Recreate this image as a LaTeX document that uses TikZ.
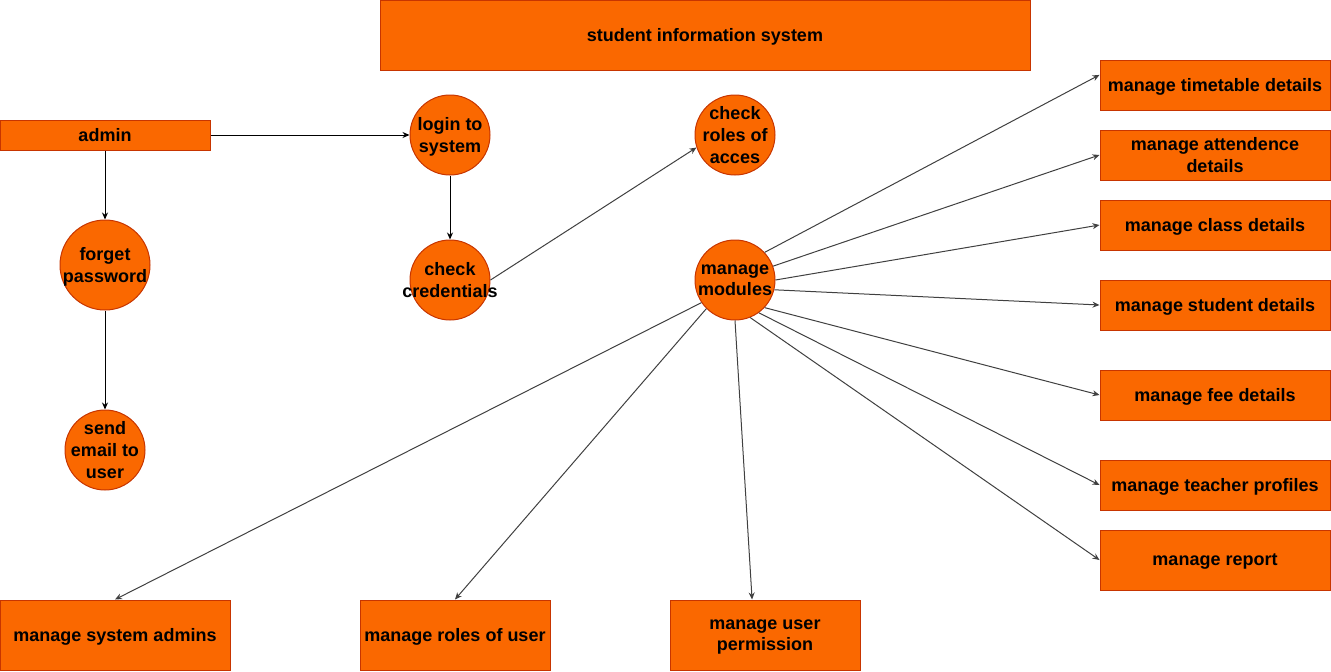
\documentclass[tikz,border=0pt]{standalone}
\usepackage{fontspec}
\setmainfont{Liberation Sans}
\usetikzlibrary{arrows.meta}
\definecolor{boxfill}{HTML}{FA6800}
\definecolor{boxline}{HTML}{C73500}
\definecolor{linkgray}{HTML}{404040}
\begin{document}
\begin{tikzpicture}[x=1pt,y=-1pt,
    font=\bfseries\fontsize{18}{21.6}\selectfont,
    box/.style={draw=boxline,fill=boxfill,line width=1pt,inner sep=0pt,align=center,text depth=0pt},
    proc/.style={circle,draw=boxline,fill=boxfill,line width=1pt,inner sep=0pt,minimum size=80pt},
    every label/.style={align=center,text depth=0pt},
    flow/.style={-{Stealth[length=7pt,width=6pt]},line width=1pt,black},
    link/.style={-{Stealth[length=7pt,width=6pt]},line width=1pt,linkgray}]
  \useasboundingbox (0,0) rectangle (1331,672);
  % top title and actor
  \node[box,minimum width=650pt,minimum height=70pt] (sis) at (705,35) {student information system};
  \node[box,minimum width=210pt,minimum height=30pt] (admin) at (105,135) {admin};
  % processes
  \node[proc,minimum size=90pt,label={center:forget\\password}] (fp) at (105,265) {};
  \node[proc,label={center:send\\email to\\user}] (se) at (105,450) {};
  \node[proc,label={center:login to\\system}] (lg) at (450,135) {};
  \node[proc,label={center:check\\credentials}] (cc) at (450,280) {};
  \node[proc,label={center:check\\roles of\\acces}] (cr) at (735,135) {};
  \node[proc,label={center:manage\\modules}] (mm) at (735,280) {};
  % right column
  \node[box,minimum width=230pt,minimum height=50pt] (tt) at (1215,85) {manage timetable details};
  \node[box,minimum width=230pt,minimum height=50pt] (at) at (1215,155) {manage attendence\\details};
  \node[box,minimum width=230pt,minimum height=50pt] (cl) at (1215,225) {manage class details};
  \node[box,minimum width=230pt,minimum height=50pt] (st) at (1215,305) {manage student details};
  \node[box,minimum width=230pt,minimum height=50pt] (fe) at (1215,395) {manage fee details};
  \node[box,minimum width=230pt,minimum height=50pt] (tp) at (1215,485) {manage teacher profiles};
  \node[box,minimum width=230pt,minimum height=60pt] (rp) at (1215,560) {manage report};
  % bottom row
  \node[box,minimum width=230pt,minimum height=70pt] (sa) at (115,635) {manage system admins};
  \node[box,minimum width=190pt,minimum height=70pt] (ru) at (455,635) {manage roles of user};
  \node[box,minimum width=190pt,minimum height=70pt] (up) at (765,635) {manage user\\permission};
  % connectors
  \draw[flow] (admin) -- (lg);
  \draw[flow] (admin) -- (fp);
  \draw[flow] (fp) -- (se);
  \draw[flow] (lg) -- (cc);
  \draw[link] (cc.east) -- (cr.198);
  \draw[link] (mm.43) -- (tt.175);
  \draw[link] (mm.20) -- (at.west);
  \draw[link] (mm.east) -- (cl.west);
  \draw[link] (mm.-14) -- (st.west);
  \draw[link] (mm.-43) -- (fe.west);
  \draw[link] (mm.-54) -- (tp.west);
  \draw[link] (mm.-68) -- (rp.west);
  \draw[link] (mm.214) -- (sa.north);
  \draw[link] (mm.225) -- (ru.north);
  \draw[link] (mm.south) -- (up.110);
\end{tikzpicture}
\end{document}
